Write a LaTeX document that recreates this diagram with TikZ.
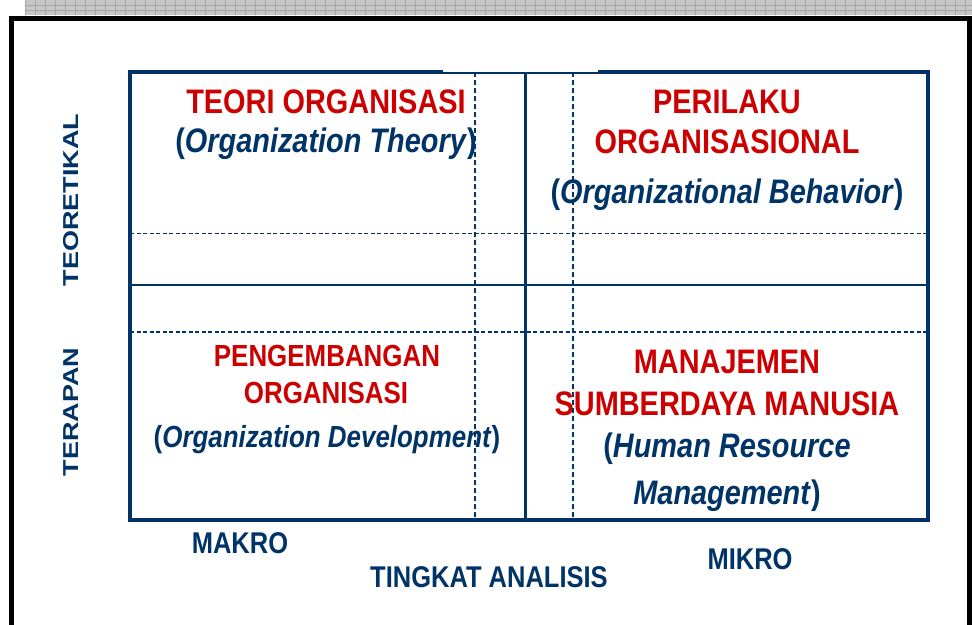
\documentclass[tikz,border=0pt]{standalone}
\usepackage{fontspec}
\setmainfont{Liberation Sans}
\newfontfamily\narrowfont[FakeStretch=0.85]{Liberation Sans}
\newfontfamily\widefont[FakeStretch=1.25]{Liberation Sans}
\definecolor{framenavy}{RGB}{0,51,102}
\definecolor{titlered}{RGB}{204,0,0}
\tikzset{boxline/.style={draw=framenavy, line width=4.5pt},
	midline/.style={draw=framenavy, line width=2.5pt},
	dashline/.style={draw=framenavy, line width=1.7pt, dash pattern=on 4pt off 2.5pt},
	redtitle/.style={anchor=base, inner sep=0pt, text=titlered, font=\narrowfont\bfseries\fontsize{34}{40}\selectfont},
	bluetitle/.style={anchor=base, inner sep=0pt, text=framenavy, font=\narrowfont\bfseries\fontsize{34}{40}\selectfont},
	redsmall/.style={redtitle, font=\narrowfont\bfseries\fontsize{30.5}{36}\selectfont},
	bluesmall/.style={bluetitle, font=\narrowfont\bfseries\fontsize{30.5}{36}\selectfont},
	axislabel/.style={anchor=base, inner sep=0pt, text=framenavy, font=\narrowfont\bfseries\fontsize{30}{36}\selectfont},
	sidelabel/.style={anchor=base, inner sep=0pt, rotate=90, text=framenavy, font=\widefont\bfseries\fontsize{21.6}{26}\selectfont}}

\begin{document}
\begin{tikzpicture}[x=1pt, y=-1pt]
	\useasboundingbox (0,0) rectangle (972,624);
	
	% grey strip and black frame
	\fill[gray!45] (25,0) rectangle (972,15);
	\foreach \gx in {25,35,...,965}
		\draw[gray!70, line width=.6pt] (\gx,0) -- (\gx,15);
	\draw[gray!70, line width=.6pt] (25,5) -- (972,5) (25,10) -- (972,10);
	\draw[line width=5pt] (11,630) -- (11,18.5) -- (969,18.5) -- (969,630);
	
	% quadrant texts
	\node[redtitle] (teori) at (326,113) {TEORI ORGANISASI};
	\node[bluetitle] (teorien) at (326,152) {(\textit{Organization Theory})};
	
	\node[redtitle] (perilaku) at (727,113) {PERILAKU};
	\node[redtitle] (perilakub) at (727,153) {ORGANISASIONAL};
	\node[bluetitle] (perilakuen) at (727,203) {(\textit{Organizational Behavior})};
	
	\node[redsmall] (pengembangan) at (327,366) {PENGEMBANGAN};
	\node[redsmall] (pengembanganb) at (326,403) {ORGANISASI};
	\node[bluesmall] (pengembanganen) at (327,447) {(\textit{Organization Development})};
	
	\node[redtitle] (manajemen) at (727,373) {MANAJEMEN};
	\node[redtitle] (manajemenb) at (727,415) {SUMBERDAYA MANUSIA};
	\node[bluetitle] (manajemenen) at (727,457) {(\textit{Human Resource}};
	\node[bluetitle] (manajemenenb) at (727,504) {\textit{Management})};
	
	% axis labels
	\node[sidelabel] (teoretikal) at (78,200) {TEORETIKAL};
	\node[sidelabel] (terapan) at (78,412) {TERAPAN};
	\node[axislabel] (makro) at (240,553) {MAKRO};
	\node[axislabel] (tingkat) at (489,587) {TINGKAT ANALISIS};
	\node[axislabel] (mikro) at (750,569) {MIKRO};
	
	% grid of the box
	\draw[dashline] (130,233.5) -- (928,233.5);
	\draw[dashline] (130,332) -- (928,332);
	\draw[dashline, line width=1.4pt, dash pattern=on 5pt off 3pt] (475,72) -- (475,520);
	\draw[dashline, line width=1.4pt, dash pattern=on 5pt off 3pt] (573,72) -- (573,520);
	\draw[midline] (130,285) -- (928,285);
	\draw[midline] (525.5,72) -- (525.5,520);
	\draw[boxline] (130,72) rectangle (928,520);
	\fill[white] (443,68) rectangle (598,72);
	
\end{tikzpicture}
\end{document}
